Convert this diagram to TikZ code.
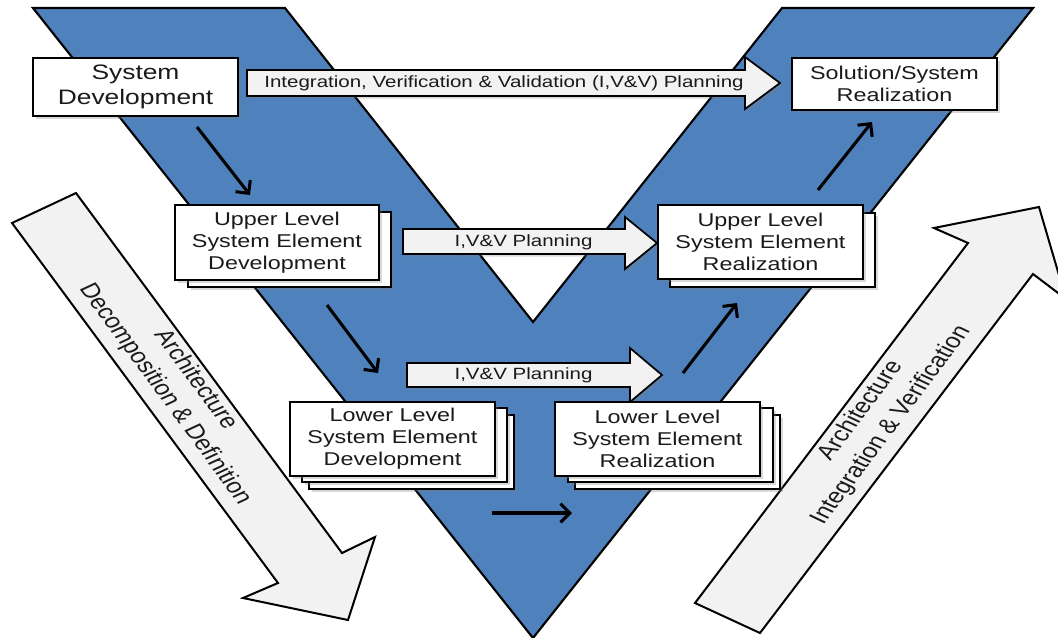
\documentclass[tikz,border=0pt]{standalone}
\usepackage{fontspec}
\setmainfont{Liberation Sans}
\newfontfamily\widefont[FakeStretch=1.26]{Liberation Sans}
\usetikzlibrary{arrows.meta,shadows}
\definecolor{vblue}{HTML}{4F81BD}
\definecolor{panel}{HTML}{F2F2F2}
\definecolor{ink}{HTML}{1A1A1A}

\begin{document}
\begin{tikzpicture}[x=0.75pt,y=-0.75pt,
  softshadow/.style={drop shadow={shadow xshift=2pt, shadow yshift=-2pt, opacity=0.3}},
  card/.style={draw=black, line width=1.3pt, fill=white, inner sep=0pt, align=center,
    text=ink, softshadow, font=\widefont\fontsize{13.9}{16.4}\selectfont},
  cardsize/.style 2 args={minimum width=#1*0.75pt, minimum height=#2*0.75pt},
  bigcard/.style={card, font=\widefont\fontsize{15.7}{18.8}\selectfont},
  blockarrow/.style={draw=black, line width=1.3pt, fill=panel, softshadow},
  bigarrow/.style={draw=black, line width=1.5pt, fill=panel},
  plantext/.style={text=ink, inner sep=0pt, font=\widefont\fontsize{12.2}{14}\selectfont},
  sidetext/.style={text=ink, inner sep=0pt, align=center, font=\fontsize{15.7}{21}\selectfont},
  flow/.style={draw=black, line width=2.3pt, -{Straight Barb[length=7pt,width=14pt]}}
]
\useasboundingbox (0,0) rectangle (1058,637);
\clip (0,0) rectangle (1058,637);
\fill[white] (0,0) rectangle (1058,637);

% the V band
\draw[fill=vblue, line width=1.6pt, line join=miter]
  (33,8) -- (285,8) -- (533,322) -- (782,8) -- (1033,8) -- (533,638) -- cycle;

% decomposition arrow (left, pointing down)
\draw[bigarrow] (12,223) -- (76,193) -- (342,553) -- (375,537) -- (348,620)
  -- (243,598) -- (278,583) -- cycle;
\begin{scope}[shift={(180,387)}]
  \node[sidetext, xscale=1.26, rotate=-59.6] (archL) at (0,0)
    {Architecture\\Decomposition \& Definition};
\end{scope}

% integration arrow (right, pointing up)
\draw[bigarrow] (695,603) -- (968,243) -- (934,228) -- (1039,207) -- (1066,299)
  -- (1033,274) -- (760,633) -- cycle;
\begin{scope}[shift={(876,418)}]
  \node[sidetext, xscale=1.26, rotate=59] (archR) at (0,0)
    {Architecture\\Integration \& Verification};
\end{scope}

% planning arrows
\draw[blockarrow] (247,70) -- (745,70) -- (745,57) -- (780,83) -- (745,109)
  -- (745,96) -- (247,96) -- cycle;
\node[plantext] (planTop) at (504,83)
  {Integration, Verification \& Validation (I,V\&V) Planning};

\draw[blockarrow] (403,229) -- (625,229) -- (625,217) -- (657,243) -- (625,269)
  -- (625,254) -- (403,254) -- cycle;
\node[plantext] (planUp) at (523.5,242) {I,V\&V Planning};

\draw[blockarrow] (407,363) -- (630,363) -- (630,348) -- (662,375) -- (630,402)
  -- (630,387) -- (407,387) -- cycle;
\node[plantext] (planLow) at (523.5,375) {I,V\&V Planning};

% top level boxes
\node[bigcard, cardsize={205}{58}] (sysDev) at (135.5,87) {System\\Development};
\node[card, cardsize={205}{52}] (sysReal) at (894.5,84) {Solution/System\\Realization};

% upper level element boxes (two sheets)
\node[card, cardsize={203}{75}] (upDevB) at (289.5,249.5) {};
\node[card, cardsize={204}{75}] (upDev) at (277,242.5)
  {Upper Level\\System Element\\Development};
\node[card, cardsize={205}{74}] (upRealB) at (772.5,250) {};
\node[card, cardsize={205}{74}] (upReal) at (760.5,242)
  {Upper Level\\System Element\\Realization};

% lower level element boxes (three sheets)
\node[card, cardsize={205}{74}] (lowDevC) at (411.5,452) {};
\node[card, cardsize={205}{74}] (lowDevB) at (404.5,445) {};
\node[card, cardsize={205}{74}] (lowDev) at (392.5,439)
  {Lower Level\\System Element\\Development};
\node[card, cardsize={205}{74}] (lowRealC) at (677.5,452) {};
\node[card, cardsize={205}{74}] (lowRealB) at (670.5,445) {};
\node[card, cardsize={205}{74}] (lowReal) at (657.5,439)
  {Lower Level\\System Element\\Realization};

% flow arrows
\coordinate (f1s) at (197,127); \coordinate (f1e) at (250,195);
\coordinate (f2s) at (327,305); \coordinate (f2e) at (378,373);
\coordinate (f3s) at (492,513); \coordinate (f3e) at (572,513);
\coordinate (f4s) at (683,373); \coordinate (f4e) at (737,303);
\coordinate (f5s) at (818,190); \coordinate (f5e) at (872,122);
\draw[flow] (f1s) -- (f1e);
\draw[flow] (f2s) -- (f2e);
\draw[flow] (f3s) -- (f3e);
\draw[flow] (f4s) -- (f4e);
\draw[flow] (f5s) -- (f5e);
\end{tikzpicture}
\end{document}
